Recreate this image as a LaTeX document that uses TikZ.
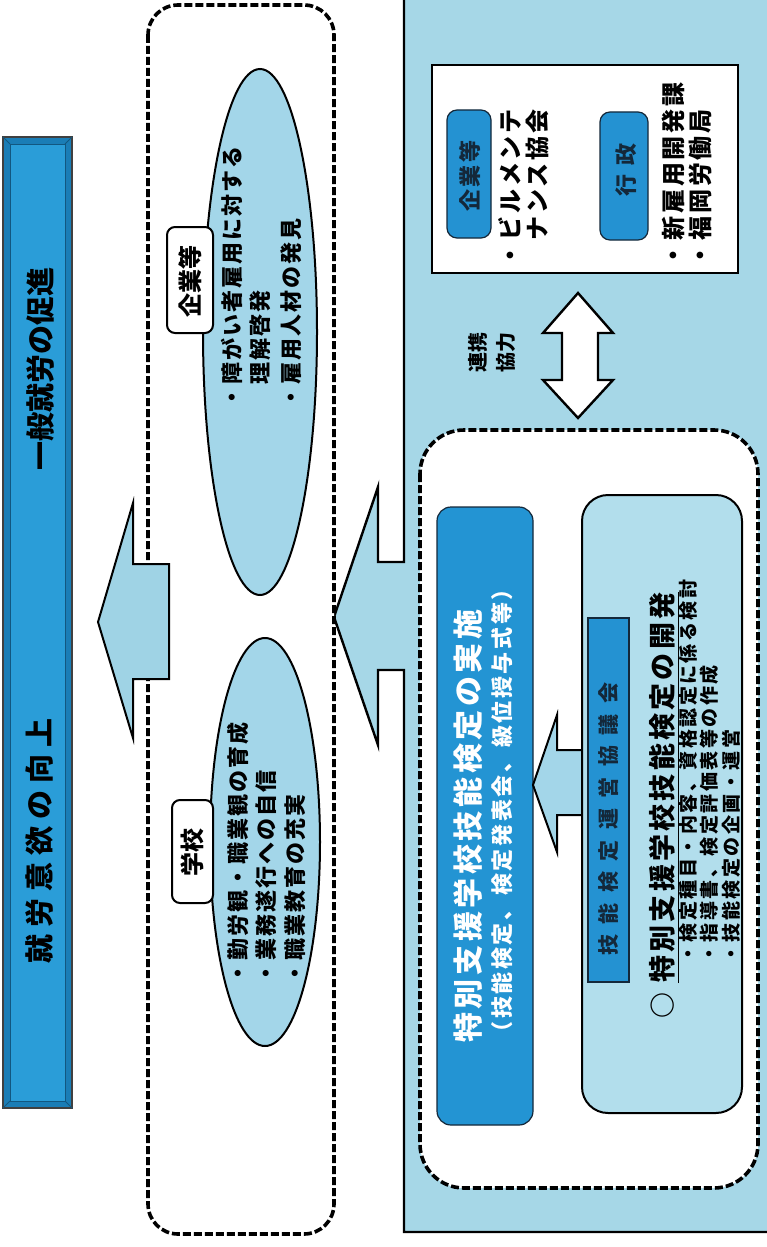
\documentclass[tikz,border=0pt]{standalone}
\usepackage{fontspec}
\newfontfamily\jp{Noto Sans CJK JP}
\definecolor{panelblue}{HTML}{A6D7E7}
\definecolor{arrowblue}{HTML}{9FD3E5}
\definecolor{ellblue}{HTML}{A3D6E9}
\definecolor{titleblue}{HTML}{2394D3}
\definecolor{barblue}{HTML}{2A9DD8}
\definecolor{bardark}{HTML}{1A7DB6}
\definecolor{lightbox}{HTML}{B2DEEC}
\definecolor{btnblue}{HTML}{2492D2}
\definecolor{navy}{HTML}{14283A}
\tikzset{
  vt/.style={rotate=90, inner sep=0pt, text=black},
  fbar/.style={font={\jp\bfseries\fontsize{14.5pt}{14.5pt}\selectfont}},
  fbarls/.style={font={\jp\bfseries\fontsize{14.5pt}{14.5pt}\selectfont\addfontfeature{LetterSpace=24}}},
  flabel/.style={font={\jp\bfseries\fontsize{12pt}{12pt}\selectfont}},
  fell/.style={font={\jp\bfseries\fontsize{11pt}{11pt}\selectfont\addfontfeature{LetterSpace=9}}},
  fpanel/.style={font={\jp\bfseries\fontsize{12pt}{12pt}\selectfont\addfontfeature{LetterSpace=12}}},
  fbtn/.style={font={\jp\bfseries\fontsize{11pt}{11pt}\selectfont\addfontfeature{LetterSpace=10}}},
  fbtnwide/.style={font={\jp\bfseries\fontsize{11pt}{11pt}\selectfont\addfontfeature{LetterSpace=45}}},
  fcoop/.style={font={\jp\bfseries\fontsize{10pt}{10pt}\selectfont}},
  ftitle/.style={font={\jp\bfseries\fontsize{15pt}{15pt}\selectfont\addfontfeature{LetterSpace=12}}},
  fsub/.style={font={\jp\bfseries\fontsize{11pt}{11pt}\selectfont\addfontfeature{LetterSpace=12}}},
  fcouncil/.style={font={\jp\bfseries\fontsize{10.5pt}{10.5pt}\selectfont\addfontfeature{LetterSpace=50}}},
  fdev/.style={font={\jp\bfseries\fontsize{13.5pt}{13.5pt}\selectfont\addfontfeature{LetterSpace=12}}},
  fsmall/.style={font={\jp\bfseries\fontsize{9.5pt}{9.5pt}\selectfont\addfontfeature{LetterSpace=13}}},
  dashbox/.style={draw=black, line width=1.8pt, dash pattern=on 4pt off 1.5pt, fill=white},
  blockarrow/.style={draw=black, line width=1pt, fill=arrowblue, line join=miter},
  labelbox/.style={draw=black, line width=1pt, fill=white, rounded corners=4pt},
}
\begin{document}
\begin{tikzpicture}[x=0.5pt,y=-0.5pt]
\useasboundingbox (0,0) rectangle (766,1247);
\fill[white] (0,0) rectangle (766,1247);

% ---------- right panel with its arrow ----------
\filldraw[fill=panelblue, draw=black, line width=1.2pt, line join=miter]
  (790,-10) -- (404,-10) -- (404,562) -- (378,562) -- (378,487) -- (334,617)
  -- (378,745) -- (378,670) -- (404,670) -- (404,1232) -- (790,1232) -- cycle;

% white partner box
\filldraw[fill=white, draw=black, line width=1.2pt] (432,65) rectangle (738,273);
\filldraw[fill=btnblue, draw=navy, line width=0.6pt, rounded corners=5pt] (447,110) rectangle (491,238);
\filldraw[fill=btnblue, draw=navy, line width=0.6pt, rounded corners=5pt] (600,112) rectangle (648,240);
\node[vt, fbtn, text=navy] (btn1) at (470,176) {企業等};
\node[vt, fbtnwide, text=navy] (btn2) at (626,170) {行政};
\node[vt, fpanel, anchor=west] (p1) at (510,268) {・ビルメンテ};
\node[vt, fpanel, anchor=west] (p2) at (537,241) {ナンス協会};
\node[vt, fpanel, anchor=west] (p3) at (673,268) {・新雇用開発課};
\node[vt, fpanel, anchor=west] (p4) at (700,268) {・福岡労働局};

% double arrow
\filldraw[fill=white, draw=black, line width=1.2pt, line join=miter]
  (562,333) -- (543,333) -- (578,293) -- (613,333) -- (598,333) -- (598,380)
  -- (613,380) -- (578,418) -- (543,380) -- (562,380) -- cycle;
\node[vt, fcoop] (coop1) at (478,352) {連携};
\node[vt, fcoop] (coop2) at (506,352) {協力};

% ---------- lower dashed box ----------
\path[dashbox, rounded corners=22pt] (420,430) rectangle (758,1188);
\filldraw[fill=titleblue, draw=navy, line width=0.6pt, rounded corners=7pt] (437,507) rectangle (533,1125);
\node[vt, ftitle, text=white, anchor=west] (title) at (468,1043) {特別支援学校技能検定の実施};
\node[vt, fsub, text=white, anchor=west] (sub) at (502,1044) {（技能検定、検定発表会、級位授与式等）};

% inner arrow
\filldraw[blockarrow, fill=ellblue]
  (582,750) -- (557,750) -- (557,715) -- (533,785) -- (557,852) -- (557,815) -- (582,815) -- cycle;

\filldraw[fill=lightbox, draw=black, line width=1pt, rounded corners=13pt] (582,495) rectangle (742,1113);
\filldraw[fill=btnblue, draw=navy, line width=0.6pt] (588,618) rectangle (629,982);
\node[vt, fcouncil, text=navy, anchor=west] (council) at (609,956) {技能検定運営協議会};

\node[vt, font={\jp\bfseries\fontsize{13pt}{13pt}\selectfont}] (circ) at (663,1005) {○};
\node[vt, fdev, anchor=west] (dev) at (662,983) {特別支援学校技能検定の開発};
\draw[line width=0.8pt] ([xshift=1.5pt]dev.south west) -- ([xshift=1.5pt]dev.south east);
\node[vt, fsmall, anchor=west] (s1) at (688,964) {・検定種目・内容、資格認定に係る検討};
\node[vt, fsmall, anchor=west] (s2) at (709,964) {・指導書、検定評価表等の作成};
\node[vt, fsmall, anchor=west] (s3) at (731,964) {・技能検定の企画・運営};

% ---------- middle dashed box ----------
\path[dashbox, rounded corners=15pt] (148,5) rectangle (334,1234);

\filldraw[fill=ellblue, draw=black, line width=1pt] (260,332) ellipse [x radius=28.5pt, y radius=131.5pt];
\filldraw[fill=ellblue, draw=black, line width=1pt] (265,842) ellipse [x radius=27.5pt, y radius=102pt];

\filldraw[labelbox] (167,227) rectangle (213,333);
\node[vt, flabel] (lab1) at (190,281) {企業等};
\filldraw[labelbox] (172,800) rectangle (213,903);
\node[vt, flabel] (lab2) at (192,852) {学校};

\node[vt, fell, anchor=west] (e1) at (232,409) {・障がい者雇用に対する};
\node[vt, fell, anchor=west] (e2) at (260,385) {理解啓発};
\node[vt, fell, anchor=west] (e3) at (291,409) {・雇用人材の発見};

\node[vt, fell, anchor=west] (e4) at (238,985) {・勤労観・職業観の育成};
\node[vt, fell, anchor=west] (e5) at (266,985) {・業務遂行への自信};
\node[vt, fell, anchor=west] (e6) at (295,985) {・職業教育の充実};

% left arrow
\filldraw[blockarrow]
  (169,564) -- (133,564) -- (133,503) -- (98,622) -- (133,738) -- (133,679) -- (169,679) -- cycle;

% ---------- left bar ----------
\fill[bardark] (3,137) rectangle (72,1108);
\fill[barblue] (10,144) rectangle (65,1101);
\draw[black!75, line width=0.6pt] (3,137) rectangle (72,1108);
\draw[bardark!70!black, line width=0.4pt] (10,144) rectangle (65,1101);
\draw[bardark!70!black, line width=0.4pt] (3,137) -- (10,144) (72,137) -- (65,144) (3,1108) -- (10,1101) (72,1108) -- (65,1101);
\node[vt, fbar] (bar1) at (40,369) {一般就労の促進};
\node[vt, fbarls, anchor=west] (bar2) at (40,964) {就労意欲の向上};
\end{tikzpicture}
\end{document}
